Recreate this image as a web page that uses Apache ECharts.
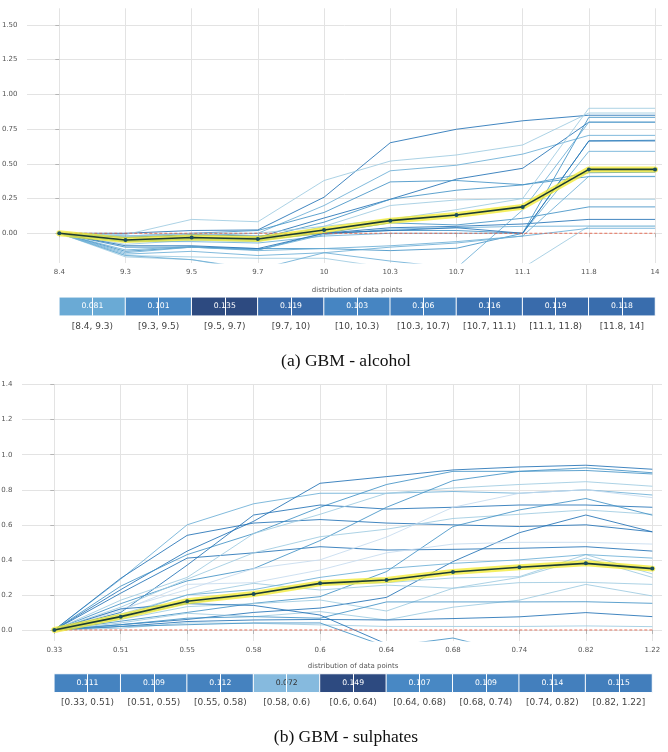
<!DOCTYPE html>
<html>
<head>
<meta charset="utf-8">
<script src="https://cdn.jsdelivr.net/npm/echarts@6/dist/echarts.min.js"></script>
<style>
  html, body { margin: 0; padding: 0; background: #fff; }
  #chart { width: 668px; height: 752px; }
</style>
</head>
<body>
<div id="chart"></div>
<script>
// ---- (a) alcohol ----
const alcoholTicks = ['8.4', '9.3', '9.5', '9.7', '10', '10.3', '10.7', '11.1', '11.8', '14'];
const alcoholBins = ['[8.4, 9.3)', '[9.3, 9.5)', '[9.5, 9.7)', '[9.7, 10)', '[10, 10.3)',
  '[10.3, 10.7)', '[10.7, 11.1)', '[11.1, 11.8)', '[11.8, 14]'];
const alcoholCounts = [0.081, 0.101, 0.135, 0.119, 0.103, 0.106, 0.116, 0.119, 0.118];
const alcoholPdp = [0, -0.048, -0.03, -0.041, 0.024, 0.091, 0.132, 0.19, 0.46, 0.46];
// one row per ICE line, one value per tick
const alcoholIce = [
  [0, 0.00, 0.02, 0.024, 0.26, 0.652, 0.749, 0.81, 0.85, 0.85],
  [0, -0.01, 0.10, 0.083, 0.38, 0.52, 0.564, 0.636, 0.866, 0.866],
  [0, -0.03, -0.02, 0.00, 0.20, 0.45, 0.49, 0.57, 0.705, 0.705],
  [0, -0.06, -0.04, -0.03, 0.11, 0.245, 0.39, 0.468, 0.80, 0.80],
  [0, -0.02, 0.00, 0.02, 0.15, 0.37, 0.38, 0.35, 0.408, 0.408],
  [0, -0.05, -0.03, -0.04, 0.08, 0.245, 0.31, 0.348, 0.436, 0.44],
  [0, -0.08, -0.05, -0.06, 0.05, 0.20, 0.24, 0.25, 0.245, 0.245],
  [0, -0.10, -0.10, -0.12, 0.00, 0.075, 0.06, 0.108, 0.19, 0.19],
  [0, -0.03, -0.01, -0.02, 0.00, 0.04, 0.05, 0.067, 0.10, 0.10],
  [0, -0.12, -0.095, -0.12, -0.01, 0.03, 0.04, 0.05, 0.052, 0.052],
  [0, -0.13, -0.10, -0.11, -0.11, -0.125, -0.108, 0.00, 0.665, 0.67],
  [0, -0.16, -0.17, -0.18, -0.18, -0.25, -0.28, -0.25, 0.05, 0.05],
  [0, -0.15, -0.13, -0.16, -0.14, -0.20, -0.25, 0.168, 0.80, 0.80],
  [0, -0.02, 0.00, 0.00, 0.05, 0.10, 0.17, 0.25, 0.90, 0.90],
  [0, -0.05, -0.04, -0.05, 0.00, 0.02, 0.02, 0.00, 0.835, 0.835],
  [0, -0.06, -0.06, -0.07, -0.02, 0.00, 0.00, 0.00, 0.59, 0.59],
  [0, -0.09, -0.09, -0.11, 0.00, 0.02, 0.04, 0.00, 0.665, 0.665],
  [0, -0.14, -0.10, -0.125, -0.11, -0.09, -0.06, -0.02, 0.41, 0.41],
  [0, -0.17, -0.19, -0.27, -0.32, -0.35, -0.35, -0.35, -0.35, -0.35],
  [0, -0.16, -0.19, -0.26, -0.14, -0.10, -0.07, -0.02, 0.036, 0.036]
];
const alcoholShade = [4, 1, 2, 4, 3, 3, 1, 3, 4, 2, 3, 1, 2, 1, 3, 2, 4, 2, 1, 2];

// ---- (b) sulphates ----
const sulphatesTicks = ['0.33', '0.51', '0.55', '0.58', '0.6', '0.64', '0.68', '0.74', '0.82', '1.22'];
const sulphatesBins = ['[0.33, 0.51)', '[0.51, 0.55)', '[0.55, 0.58)', '[0.58, 0.6)', '[0.6, 0.64)',
  '[0.64, 0.68)', '[0.68, 0.74)', '[0.74, 0.82)', '[0.82, 1.22]'];
const sulphatesCounts = [0.111, 0.109, 0.112, 0.072, 0.149, 0.107, 0.109, 0.114, 0.115];
const sulphatesPdp = [0, 0.076, 0.164, 0.205, 0.266, 0.285, 0.331, 0.358, 0.38, 0.35];
const sulphatesIce = [
  [0, 0.29, 0.60, 0.72, 0.78, 0.78, 0.79, 0.78, 0.80, 0.77],
  [0, 0.295, 0.54, 0.61, 0.63, 0.61, 0.60, 0.59, 0.60, 0.56],
  [0, 0.23, 0.45, 0.62, 0.837, 0.875, 0.913, 0.93, 0.94, 0.917],
  [0, 0.21, 0.41, 0.44, 0.475, 0.456, 0.46, 0.466, 0.475, 0.45],
  [0, 0.25, 0.43, 0.55, 0.70, 0.83, 0.905, 0.905, 0.91, 0.89],
  [0, 0.10, 0.37, 0.656, 0.713, 0.69, 0.70, 0.713, 0.713, 0.70],
  [0, 0.17, 0.30, 0.55, 0.66, 0.78, 0.81, 0.83, 0.846, 0.82],
  [0, 0.15, 0.28, 0.35, 0.51, 0.70, 0.852, 0.905, 0.925, 0.897],
  [0, 0.13, 0.29, 0.44, 0.532, 0.575, 0.636, 0.66, 0.685, 0.66],
  [0, 0.12, 0.23, 0.35, 0.40, 0.53, 0.70, 0.78, 0.80, 0.755],
  [0, 0.05, 0.10, 0.152, 0.19, 0.333, 0.59, 0.685, 0.75, 0.655],
  [0, 0.03, 0.06, 0.10, 0.125, 0.186, 0.39, 0.555, 0.656, 0.56],
  [0, 0.11, 0.26, 0.27, 0.342, 0.44, 0.49, 0.50, 0.50, 0.49],
  [0, 0.09, 0.20, 0.266, 0.228, 0.256, 0.238, 0.27, 0.272, 0.26],
  [0, 0.07, 0.15, 0.205, 0.26, 0.27, 0.297, 0.304, 0.43, 0.32],
  [0, 0.06, 0.133, 0.15, 0.171, 0.108, 0.238, 0.30, 0.41, 0.30],
  [0, 0.04, 0.095, 0.076, 0.105, 0.057, 0.13, 0.17, 0.26, 0.194],
  [0, 0.03, 0.067, 0.076, 0.067, 0.16, 0.16, 0.16, 0.161, 0.152],
  [0, 0.02, 0.048, 0.057, 0.06, 0.057, 0.065, 0.075, 0.099, 0.076],
  [0, 0.01, 0.04, 0.038, 0.029, 0.02, 0.02, 0.02, 0.023, 0.019],
  [0, 0.12, 0.15, 0.14, 0.085, -0.08, -0.10, -0.10, -0.10, -0.12],
  [0, 0.02, 0.03, 0.04, 0.04, -0.095, -0.046, -0.14, -0.15, -0.15],
  [0, 0.08, 0.20, 0.23, 0.30, 0.35, 0.38, 0.40, 0.43, 0.41]
];
const sulphatesShade = [2, 4, 4, 4, 3, 4, 1, 3, 1, 0, 3, 4, 0, 1, 1, 1, 1, 3, 4, 1, 4, 3, 2];

const alcoholYTicks = [0, 0.25, 0.5, 0.75, 1, 1.25, 1.5];
const sulphatesYTicks = [0, 0.2, 0.4, 0.6, 0.8, 1.0, 1.2, 1.4];

const iceColors = ['#c6dbef', '#9ecae1', '#6baed6', '#4292c6', '#2171b5'];
const heatColors = ['#a6cde8', '#6aaad5', '#4a8bc7', '#3a6fb0', '#2d4a80'];
const font = 'DejaVu Sans';

const chart = echarts.init(document.getElementById('chart'));
const grid = [], xAxis = [], yAxis = [], series = [], visualMap = [], graphic = [];

function addPanel(p) {
  // ICE plot
  const g = grid.length;
  grid.push({ left: p.left, right: p.right, top: p.top, height: p.height, outerBoundsMode: 'none' });
  const xi = xAxis.length;
  const idx = p.ticks.map((t, i) => i);
  xAxis.push({
    gridIndex: g, type: 'value', min: p.xMin, max: p.xMax,
    axisLine: { show: false },
    axisTick: { show: true, length: 4, customValues: idx, lineStyle: { color: '#b5b5b5' } },
    axisLabel: { customValues: idx, formatter: v => p.ticks[v], color: '#555', fontSize: 7, fontFamily: font, margin: 6 },
    splitLine: { show: true, lineStyle: { color: '#e3e3e3', width: 1 } }
  });
  const yi = yAxis.length;
  yAxis.push({
    gridIndex: g, type: 'value', min: p.yMin, max: p.yMax,
    axisLine: { show: false },
    axisTick: { show: true, length: 4, customValues: p.yTicks, lineStyle: { color: '#b5b5b5' } },
    axisLabel: { customValues: p.yTicks, formatter: v => v.toFixed(p.yDigits), color: '#555', fontSize: 7, fontFamily: font, margin: 9.5 },
    splitLine: { show: true, lineStyle: { color: '#e3e3e3', width: 1 } }
  });
  p.ice.forEach((vals, k) => series.push({
    type: 'line', xAxisIndex: xi, yAxisIndex: yi, silent: true, symbol: 'none', z: 2,
    data: vals.map((v, i) => [i, v]),
    lineStyle: { width: 1, color: iceColors[p.shade[k]], opacity: 0.85 }
  }));
  series.push({
    type: 'line', xAxisIndex: xi, yAxisIndex: yi, silent: true, symbol: 'none', z: 3,
    data: idx.map(i => [i, 0]),
    lineStyle: { color: '#E75438', width: 1, type: [3, 2], opacity: 0.8 }
  });
  series.push({
    type: 'line', xAxisIndex: xi, yAxisIndex: yi, silent: true, symbol: 'none', z: 4,
    data: p.pdp.map((v, i) => [i, v]),
    lineStyle: { color: '#f2ea2c', width: 6, opacity: 0.75, cap: 'round', join: 'round' }
  });
  series.push({
    type: 'line', xAxisIndex: xi, yAxisIndex: yi, silent: true, z: 5,
    symbol: 'circle', symbolSize: 4,
    data: p.pdp.map((v, i) => [i, v]),
    itemStyle: { color: '#1A4E5D' },
    lineStyle: { color: '#1b3b33', width: 1.6 }
  });

  // distribution heat bar
  const hg = grid.length;
  grid.push({ left: p.hLeft, right: p.hRight, top: p.hTop, height: p.hHeight, outerBoundsMode: 'none' });
  const hx = xAxis.length;
  xAxis.push({
    gridIndex: hg, type: 'category', data: p.bins, z: 10,
    axisLine: { show: false },
    axisTick: { show: true, alignWithLabel: true, inside: true, length: p.hHeight, lineStyle: { color: '#ffffff', width: 1 } },
    axisLabel: { interval: 0, color: '#444', fontSize: 9, fontFamily: font, margin: 6 },
    splitLine: { show: false }
  });
  xAxis.push({
    gridIndex: hg, type: 'category', data: p.bins, position: 'top',
    name: 'distribution of data points', nameLocation: 'middle', nameGap: 4,
    nameTextStyle: { color: '#555', fontSize: 7, fontFamily: font },
    axisLine: { show: false }, axisTick: { show: false }, axisLabel: { show: false }, splitLine: { show: false }
  });
  const hy = yAxis.length;
  yAxis.push({ gridIndex: hg, type: 'category', data: [''], show: false });
  series.push({
    type: 'heatmap', xAxisIndex: hx, yAxisIndex: hy, silent: true,
    data: p.counts.map((c, i) => ({ value: [i, 0, c], label: { color: c < p.darkBelow ? '#333' : '#ffffff' } })),
    label: { show: true, fontSize: 7.7, fontFamily: font, formatter: d => d.value[2].toFixed(3) },
    itemStyle: { borderColor: '#ffffff', borderWidth: 1 }
  });
  visualMap.push({
    show: false, seriesIndex: series.length - 1, dimension: 2,
    min: p.vMin, max: p.vMax, inRange: { color: heatColors }
  });

  graphic.push({
    type: 'text', x: 346, y: p.captionY, silent: true,
    style: { text: p.caption, font: '17.5px "Liberation Serif"', fill: '#111', align: 'center', verticalAlign: 'middle' }
  });
}

addPanel({
  ticks: alcoholTicks, bins: alcoholBins, counts: alcoholCounts, pdp: alcoholPdp,
  ice: alcoholIce, shade: alcoholShade, yTicks: alcoholYTicks, yDigits: 2,
  left: 27, right: 6, top: 8.3, height: 254.7,
  xMin: -0.488, xMax: 9.105, yMin: -0.214, yMax: 1.62,
  hLeft: 59.3, hRight: 13, hTop: 297.3, hHeight: 18.4,
  vMin: 0.063, vMax: 0.135, darkBelow: 0.075,
  caption: '(a) GBM - alcohol', captionY: 361
});

addPanel({
  ticks: sulphatesTicks, bins: sulphatesBins, counts: sulphatesCounts, pdp: sulphatesPdp,
  ice: sulphatesIce, shade: sulphatesShade, yTicks: sulphatesYTicks, yDigits: 1,
  left: 22, right: 6, top: 384.6, height: 256.4,
  xMin: -0.486, xMax: 9.146, yMin: -0.063, yMax: 1.40,
  hLeft: 54.3, hRight: 16, hTop: 674, hHeight: 18.3,
  vMin: 0.06, vMax: 0.149, darkBelow: 0.075,
  caption: '(b) GBM - sulphates', captionY: 737
});

chart.setOption({
  animation: false,
  backgroundColor: '#ffffff',
  grid, xAxis, yAxis, series, visualMap, graphic
});
</script>
</body>
</html>
